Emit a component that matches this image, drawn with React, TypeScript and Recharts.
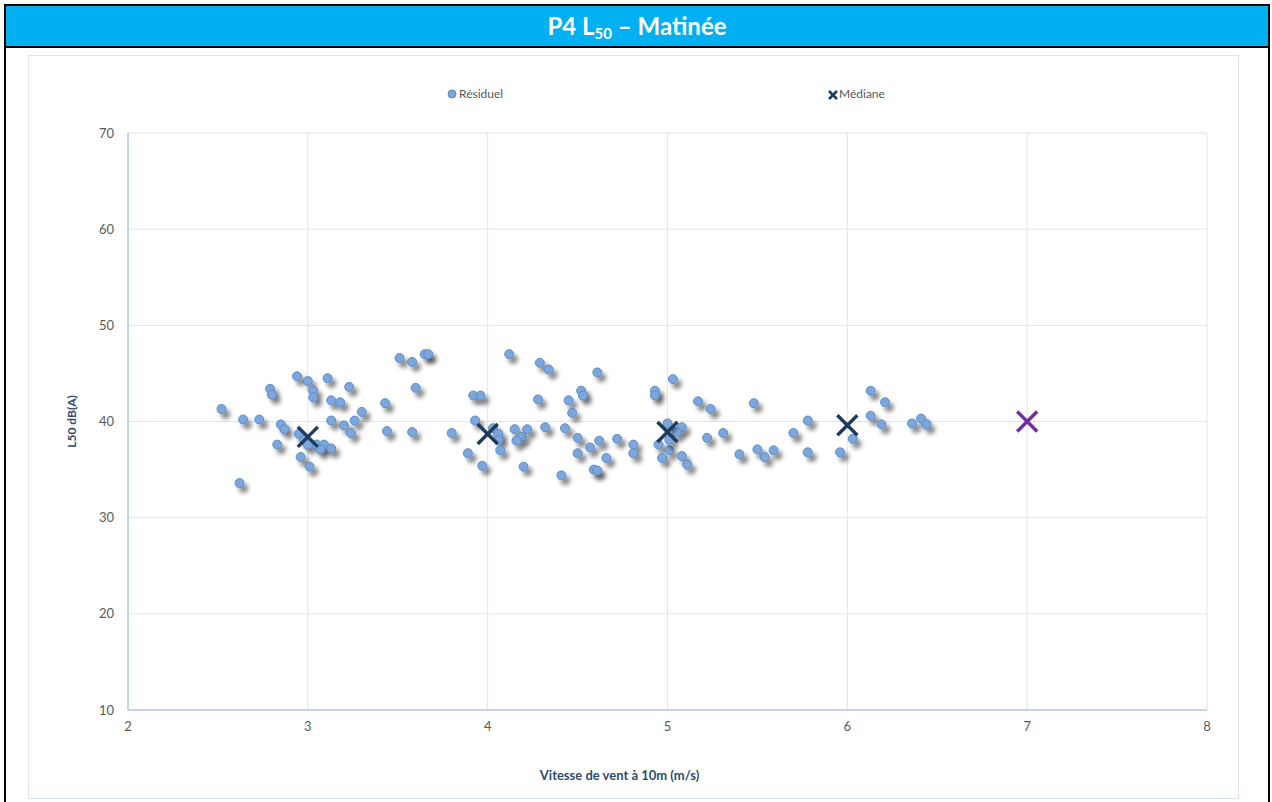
import React from "react";
import {
  ScatterChart,
  Scatter,
  XAxis,
  YAxis,
  CartesianGrid,
  Cell,
  Label,
} from "recharts";

// wind speed ticks (m/s) and level ticks dB(A)
const xTicks = [2, 3, 4, 5, 6, 7, 8];
const yTicks = [10, 20, 30, 40, 50, 60, 70];

// residual noise measurements: wind speed / L50
const residuelX = [
  2.52, 2.62, 2.64, 2.73, 2.79, 2.8, 2.85, 2.87, 2.83, 2.94, 3.0, 3.11, 3.23, 3.03,
  3.03, 3.13, 3.18, 3.3, 3.13, 3.2, 3.26, 3.24, 2.95, 2.98, 3.0, 3.05, 3.09, 3.07,
  3.13, 2.96, 3.01, 3.43, 3.44, 3.58, 3.51, 3.58, 3.65, 3.67, 3.6, 3.8, 3.92, 3.96,
  3.93, 3.89, 3.97, 4.03, 4.06, 4.06, 4.07, 4.12, 4.15, 4.19, 4.16, 4.22, 4.32, 4.2,
  4.43, 4.5, 4.41, 4.5, 4.57, 4.62, 4.66, 4.59, 4.61, 4.72, 4.81, 4.81, 4.29, 4.34,
  4.61, 4.52, 4.53, 4.28, 4.45, 4.47, 4.93, 4.93, 5.03, 5.17, 5.24, 5.48, 5.22, 5.31,
  5.4, 5.5, 5.54, 5.59, 4.95, 4.97, 5.01, 5.08, 5.11, 5.08, 5.05, 5.01, 5.0, 5.78,
  5.7, 5.78, 5.96, 6.03, 6.13, 6.21, 6.13, 6.19, 6.36, 6.41, 6.44,
];
const residuelY = [
  41.3, 33.6, 40.2, 40.2, 43.4, 42.8, 39.7, 39.2, 37.6, 44.7, 44.2, 44.5, 43.6, 43.2,
  42.5, 42.2, 42.0, 41.0, 40.1, 39.6, 40.1, 38.8, 38.7, 38.1, 37.6, 37.6, 37.6, 37.1,
  37.2, 36.3, 35.3, 41.9, 39.0, 38.9, 46.6, 46.2, 47.0, 47.0, 43.5, 38.8, 42.7, 42.7,
  40.1, 36.7, 35.4, 39.3, 38.7, 38.1, 37.0, 47.0, 39.2, 38.4, 38.0, 39.2, 39.4, 35.3,
  39.3, 38.3, 34.4, 36.7, 37.3, 38.0, 36.2, 35.0, 34.9, 38.2, 37.6, 36.7, 46.1, 45.4,
  45.1, 43.2, 42.7, 42.3, 42.2, 40.9, 43.2, 42.7, 44.4, 42.1, 41.3, 41.9, 38.3, 38.8,
  36.6, 37.1, 36.3, 37.0, 37.6, 36.2, 37.0, 36.4, 35.5, 39.4, 38.9, 38.1, 39.8, 40.1,
  38.8, 36.8, 36.8, 38.2, 43.2, 42.0, 40.6, 39.7, 39.8, 40.3, 39.7,
];

// median per wind speed class
const medianX = [3, 4, 5, 6, 7];
const medianY = [38.4, 38.7, 38.9, 39.6, 40.0];

const residuel = residuelX.map((x, i) => ({ x, y: residuelY[i] }));
const mediane = medianX.map((x, i) => ({ x, y: medianY[i] }));

const FONT = "Lato, 'Open Sans', sans-serif";
const NAVY = "#1F3A5C";

const Dot = (props: any) => (
  <circle
    cx={props.cx}
    cy={props.cy}
    r={4.5}
    fill="#7DA7DB"
    stroke="#5B8BCB"
    strokeWidth={1}
    filter="url(#dotShadow)"
  />
);

const Cross = (props: any) => {
  const { cx, cy } = props;
  const c = props.fill || NAVY;
  const s = 10;
  return (
    <g stroke={c} strokeWidth={3.5} strokeLinecap="butt">
      <line x1={cx - s} y1={cy - s} x2={cx + s} y2={cy + s} />
      <line x1={cx - s} y1={cy + s} x2={cx + s} y2={cy - s} />
    </g>
  );
};

export default function App() {
  return (
    <div
      style={{
        position: "absolute",
        left: 0,
        top: 0,
        width: 1272,
        height: 802,
        overflow: "hidden",
        background: "#fff",
        fontFamily: FONT,
      }}
    >
      <svg width={0} height={0} style={{ position: "absolute" }}>
        <defs>
          <filter id="dotShadow" x="-100%" y="-100%" width="300%" height="300%">
            <feDropShadow dx={4} dy={5} stdDeviation={2} floodColor="#000" floodOpacity={0.45} />
          </filter>
        </defs>
      </svg>

      {/* outer frame + title band */}
      <div
        style={{
          position: "absolute",
          left: 4,
          top: 4,
          width: 1262,
          height: 810,
          border: "2px solid #000",
        }}
      />
      <div
        style={{
          position: "absolute",
          left: 6,
          top: 6,
          width: 1262,
          height: 40,
          background: "#00B0F0",
          borderBottom: "2px solid #000",
          color: "#fff",
          fontWeight: 700,
          fontSize: 24,
          textAlign: "center",
          lineHeight: "40px",
        }}
      >
        P4 L<sub style={{ fontSize: 15, verticalAlign: "-4px" }}>50</sub> – Matinée
      </div>

      {/* chart panel */}
      <div
        style={{
          position: "absolute",
          left: 28,
          top: 55,
          width: 1209,
          height: 742,
          border: "1px solid #D9E5F2",
        }}
      />

      {/* legend */}
      <div style={{ position: "absolute", left: 447, top: 86, fontSize: 12, color: "#595959", display: "flex", alignItems: "center" }}>
        <svg width={10} height={10} style={{ marginRight: 2 }}>
          <circle cx={5} cy={5} r={4} fill="#7DA7DB" stroke="#5B8BCB" />
        </svg>
        Résiduel
      </div>
      <div style={{ position: "absolute", left: 828, top: 86, fontSize: 12, color: "#595959", display: "flex", alignItems: "center" }}>
        <svg width={10} height={10} style={{ marginRight: 1, marginTop: 2 }}>
          <g stroke={NAVY} strokeWidth={2.5}>
            <line x1={1} y1={1} x2={9} y2={9} />
            <line x1={1} y1={9} x2={9} y2={1} />
          </g>
        </svg>
        Médiane
      </div>

      <div style={{ position: "absolute", left: 0, top: 0 }}>
        <ScatterChart
          width={1272}
          height={802}
          margin={{ top: 133, right: 65, bottom: 12, left: 58 }}
        >
          <CartesianGrid stroke="#DCE6F2" strokeWidth={1} />
          <XAxis
            type="number"
            dataKey="x"
            domain={[2, 8]}
            ticks={xTicks}
            allowDataOverflow
            axisLine={{ stroke: "#B4C9E6", strokeWidth: 1.5 }}
            tickLine={false}
            tickSize={10}
            tick={{ fontSize: 13, fill: "#595959", fontFamily: FONT }}
            height={80}
          >
            <Label
              value="Vitesse de vent à 10m (m/s)"
              position="insideBottom"
              offset={10}
              dx={-48}
              style={{ fontSize: 13, fontWeight: 700, fill: "#2F4B6E", fontFamily: FONT }}
            />
          </XAxis>
          <YAxis
            type="number"
            dataKey="y"
            domain={[10, 70]}
            ticks={yTicks}
            allowDataOverflow
            axisLine={{ stroke: "#B4C9E6", strokeWidth: 1.5 }}
            tickLine={false}
            tickSize={12}
            tick={{ fontSize: 13, fill: "#595959", fontFamily: FONT }}
            width={70}
          >
            <Label
              value="L50 dB(A)"
              angle={-90}
              position="insideLeft"
              offset={14}
              style={{ fontSize: 12, fontWeight: 700, fill: "#2F4B6E", fontFamily: FONT, textAnchor: "middle" }}
            />
          </YAxis>
          <Scatter
            name="Résiduel"
            data={residuel}
            shape={<Dot />}
            isAnimationActive={false}
          />
          <Scatter
            name="Médiane"
            data={mediane}
            fill={NAVY}
            shape={<Cross />}
            isAnimationActive={false}
          >
            {mediane.map((d, i) => (
              <Cell key={i} fill={d.x === 7 ? "#7030A0" : NAVY} />
            ))}
          </Scatter>
        </ScatterChart>
      </div>
    </div>
  );
}
